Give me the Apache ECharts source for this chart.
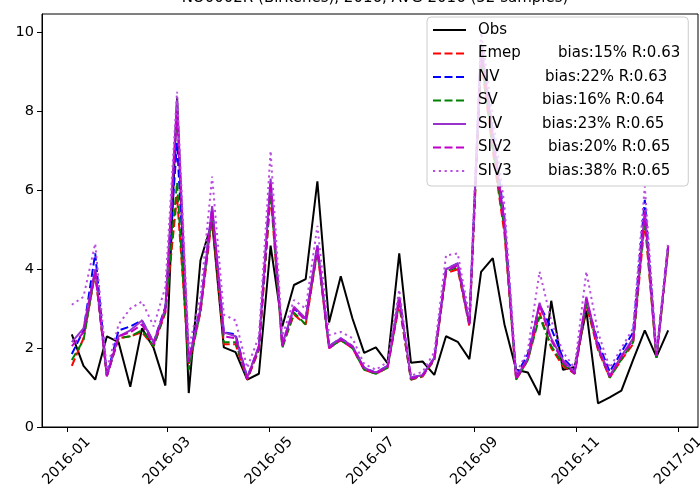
<!DOCTYPE html>
<html>
<head>
<meta charset="utf-8">
<script src="https://cdn.jsdelivr.net/npm/echarts@6/dist/echarts.min.js"></script>
<style>html,body{margin:0;padding:0;background:#fff}#c{width:700px;height:498px}</style>
</head>
<body>
<div id="c"></div>
<script>
const titleText = 'NO0002R (Birkenes), 2016, AVG 2016 (52 samples)';
const dates = ['2016-01-04','2016-01-11','2016-01-18','2016-01-25','2016-02-01','2016-02-08','2016-02-15','2016-02-22','2016-02-29','2016-03-07','2016-03-14','2016-03-21','2016-03-28','2016-04-04','2016-04-11','2016-04-18','2016-04-25','2016-05-02','2016-05-09','2016-05-16','2016-05-23','2016-05-30','2016-06-06','2016-06-13','2016-06-20','2016-06-27','2016-07-04','2016-07-11','2016-07-18','2016-07-25','2016-08-01','2016-08-08','2016-08-15','2016-08-22','2016-08-29','2016-09-05','2016-09-12','2016-09-19','2016-09-26','2016-10-03','2016-10-10','2016-10-17','2016-10-24','2016-10-31','2016-11-07','2016-11-14','2016-11-21','2016-11-28','2016-12-05','2016-12-12','2016-12-19','2016-12-26'];
const obs  = [2.35,1.55,1.2,2.3,2.15,1.02,2.5,2.0,1.05,8.35,0.86,4.22,5.2,2.02,1.9,1.2,1.35,4.6,2.55,3.6,3.75,6.23,2.65,3.82,2.75,1.88,2.02,1.62,4.4,1.63,1.66,1.32,2.3,2.16,1.72,3.93,4.28,2.6,1.45,1.38,0.81,3.2,1.45,1.52,2.95,0.6,0.75,0.92,1.7,2.45,1.78,2.45];
const emep = [1.55,2.25,3.9,1.3,2.25,2.3,2.4,2.05,2.9,5.85,1.6,2.9,5.3,2.1,2.1,1.2,1.95,5.9,2.05,2.85,2.6,4.45,2.0,2.2,2.0,1.45,1.35,1.5,3.1,1.2,1.28,1.7,3.9,4.0,2.55,9.3,7.0,4.9,1.2,1.7,2.9,2.0,1.55,1.35,3.1,1.95,1.25,1.7,2.1,5.2,1.75,4.5];
const nv   = [1.85,2.45,4.4,1.3,2.45,2.55,2.7,2.15,3.05,7.2,1.7,3.05,5.55,2.4,2.35,1.25,2.05,6.2,2.1,3.0,2.75,4.6,2.05,2.25,2.05,1.5,1.38,1.55,3.3,1.25,1.32,1.75,4.0,4.15,2.65,9.7,7.5,5.3,1.3,1.85,3.1,2.5,1.75,1.45,3.2,2.15,1.4,1.9,2.4,5.76,1.8,4.6];
const sv   = [1.7,2.2,3.95,1.3,2.25,2.3,2.45,2.05,2.95,6.2,1.45,2.95,5.4,2.15,2.15,1.22,1.98,6.0,2.0,2.9,2.6,4.5,2.0,2.2,2.0,1.45,1.35,1.5,3.15,1.2,1.3,1.7,3.95,4.05,2.6,9.4,7.1,5.0,1.2,1.7,2.8,2.05,1.6,1.35,3.15,2.0,1.25,1.72,2.15,5.3,1.75,4.55];
const siv  = [2.15,2.5,4.0,1.3,2.3,2.45,2.7,2.15,3.0,8.3,1.7,3.0,5.6,2.4,2.3,1.25,2.05,6.3,2.1,3.05,2.75,4.6,2.05,2.25,2.05,1.5,1.38,1.55,3.3,1.25,1.32,1.75,4.0,4.15,2.63,9.7,7.4,5.2,1.25,1.75,3.15,2.25,1.7,1.38,3.3,2.05,1.3,1.8,2.25,5.5,1.8,4.6];
const siv2 = [2.05,2.4,3.95,1.28,2.3,2.4,2.6,2.1,2.95,8.0,1.65,2.95,5.5,2.3,2.25,1.22,2.0,6.2,2.05,3.0,2.7,4.55,2.0,2.22,2.02,1.48,1.36,1.52,3.25,1.22,1.3,1.72,3.95,4.1,2.6,9.6,7.3,5.1,1.22,1.72,3.1,2.2,1.65,1.35,3.25,2.0,1.28,1.78,2.2,5.45,1.78,4.58];
const siv3 = [3.1,3.3,4.65,1.45,2.6,3.0,3.18,2.55,3.55,8.5,2.0,3.3,6.35,2.85,2.7,1.5,2.3,7.0,2.3,3.22,3.0,5.1,2.33,2.41,2.25,1.6,1.45,1.65,3.48,1.3,1.4,1.9,4.35,4.4,2.8,10.0,7.9,5.6,1.35,1.95,3.94,2.7,1.9,1.5,3.94,2.4,1.5,2.0,2.5,6.1,1.9,4.7];
const seriesNames = ['Obs','Emep','NV','SV','SIV','SIV2','SIV3'];
const biasLabels  = ['', 'bias:15% R:0.63','bias:22% R:0.63','bias:16% R:0.64','bias:23% R:0.65','bias:20% R:0.65','bias:38% R:0.65'];
const xTickLabels = ['2016-01-01','2016-03-01','2016-05-01','2016-07-01','2016-09-01','2016-11-01','2017-01-01'];
const yTicks = [0,2,4,6,8,10];

function ts(s){const p=s.split('-').map(Number);return Date.UTC(p[0],p[1]-1,p[2]);}
const tdates = dates.map(ts);
const span = tdates[tdates.length-1]-tdates[0];
const xmin = tdates[0]-0.05*span, xmax = tdates[tdates.length-1]+0.05*span;
const allVals = [].concat(obs,emep,nv,sv,siv,siv2,siv3);
const vmax = Math.max.apply(null, allVals), vmin = Math.min.apply(null, allVals);
const ymax = vmax + 0.05*(vmax - vmin);

const values = [obs,emep,nv,sv,siv,siv2,siv3];
const colors = ['#000000','#ff0000','#0000ff','#008000','#9932cc','#c000c8','#b84ee0'];
const types  = ['solid',[8,3.5],[8,3.5],[8,3.5],'solid',[8,3.5],[2.2,3.6]];
const nameW  = [0,80,67,64,64,70,70];

const series = seriesNames.map((n,i)=>({
  name:n, type:'line', symbol:'none', showSymbol:false, animation:false,
  data: tdates.map((t,j)=>[t, values[i][j]]),
  lineStyle:{color:colors[i], width:2, type:types[i]},
  itemStyle:{color:colors[i]}, z: 2
}));

const rich = {sp:{width:7, fontSize:15}, b:{fontSize:15, color:'#000', fontFamily:'DejaVu Sans'}};
nameW.forEach((w,i)=>{ const r = {fontSize:15, color:'#000', fontFamily:'DejaVu Sans'}; if (w) r.width = w; rich['n'+i] = r; });

const chart = echarts.init(document.getElementById('c'), null, {renderer:'canvas'});
chart.setOption({
  animation:false,
  backgroundColor:'#fff',
  title:{text:titleText, left:370, textAlign:'center', top:-14, textStyle:{fontSize:15, fontWeight:'normal', color:'#000', fontFamily:'DejaVu Sans'}},
  grid:{left:42, right:2, top:14, bottom:71, show:true, borderColor:'#000', borderWidth:1, backgroundColor:'transparent', outerBoundsMode:'none', containLabel:false},
  legend:{
    z:20, zlevel:0,
    orient:'vertical', left:427, top:17, padding:[4,8,6,5], itemWidth:33, itemHeight:14, itemGap:5.5,
    backgroundColor:'rgba(255,255,255,0.8)', borderColor:'#cccccc', borderWidth:1, borderRadius:4,
    data: seriesNames,
    itemStyle:{opacity:0},
    textStyle:{fontSize:15, lineHeight:18, color:'#000', fontFamily:'DejaVu Sans', rich:rich},
    formatter: function(name){ const i = seriesNames.indexOf(name); return '{sp|}' + '{n'+i+'|'+name+'}' + (biasLabels[i] ? '{b|'+biasLabels[i]+'}' : ''); }
  },
  xAxis:{
    type:'value', min:xmin, max:xmax, scale:true,
    axisLine:{show:true, lineStyle:{color:'#000', width:1}},
    axisTick:{show:true, length:5, inside:false, lineStyle:{color:'#000'}, customValues: xTickLabels.map(ts)},
    splitLine:{show:false}, minorTick:{show:false},
    axisLabel:{
      customValues: xTickLabels.map(ts), rotate:45, align:'center', verticalAlign:'middle', margin:34,
      fontSize:14.5, color:'#000', fontFamily:'DejaVu Sans',
      formatter:function(v){const d=new Date(v);const m=d.getUTCMonth()+1;return d.getUTCFullYear()+'-'+(m<10?'0'+m:m);}
    }
  },
  yAxis:{
    type:'value', min:0, max:ymax,
    axisLine:{show:true, lineStyle:{color:'#000', width:1}},
    axisTick:{show:true, length:5, inside:false, lineStyle:{color:'#000'}, customValues: yTicks},
    splitLine:{show:false},
    axisLabel:{customValues: yTicks, margin:8, fontSize:14.5, color:'#000', fontFamily:'DejaVu Sans'}
  },
  series: series
});
</script>
</body>
</html>
